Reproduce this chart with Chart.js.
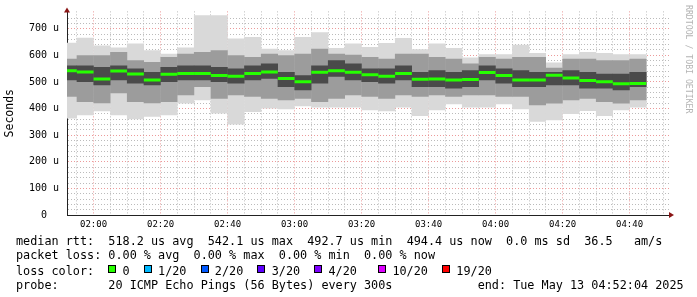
<!DOCTYPE html>
<html>
<head>
<meta charset="utf-8">
<script src="https://cdn.jsdelivr.net/npm/chart.js@4/dist/chart.umd.min.js"></script>
<style>
  html, body { margin: 0; padding: 0; background: #fff; }
  #wrap { position: relative; width: 697px; height: 297px; overflow: hidden; }
  #chart { position: absolute; left: 0; top: 0; }
  #legend {
    position: absolute; left: 16px; top: 233.5px;
    font: 11.8px "DejaVu Sans Mono", monospace; line-height: 14.5px;
    white-space: pre; color: #000;
  }
  .sw { display: inline-block; width: 1ch; position: relative; height: 1em; vertical-align: baseline; }
  .sw i { position: absolute; left: 0; top: 2px; width: 8px; height: 8px; border: 1px solid #000; box-sizing: border-box; }
  #brand {
    position: absolute; left: 683.5px; top: 5px;
    font: 8.2px "DejaVu Sans Mono", monospace; line-height: 10px;
    writing-mode: vertical-rl; color: #b4b4b4; white-space: pre;
  }
</style>
</head>
<body>
<div id="wrap">
  <canvas id="chart" width="697" height="297"></canvas>
  <div id="legend"></div>
  <div id="brand">RRDTOOL / TOBI OETIKER</div>
</div>
<script>
// 5 minute bins (start time of each bin)
const binStart = ["01:50","01:55","02:00","02:05","02:10","02:15","02:20","02:25","02:30","02:35",
  "02:40","02:45","02:50","02:55","03:00","03:05","03:10","03:15","03:20","03:25",
  "03:30","03:35","03:40","03:45","03:50","03:55","04:00","04:05","04:10","04:15",
  "04:20","04:25","04:30","04:35","04:40"];

// smoke extents and median, in microseconds
const maxV = [647,666,637,629,644,619,606,629,750,750,663,669,625,619,669,687,627,644,631,646,
  665,623,644,627,592,604,604,640,609,573,604,612,609,604,604];
const hiMid = [587,600,600,612,581,575,594,606,612,619,600,594,606,600,606,625,606,602,594,587,
  606,606,594,587,569,594,587,594,594,553,587,587,581,581,587];
const hiCore = [562,562,556,562,550,537,556,562,562,556,550,562,569,537,525,562,581,569,550,550,
  562,537,544,537,544,562,550,544,537,537,544,537,531,531,537];
const median = [542,537,511,541,530,507,529,532,532,524,521,532,537,513,501,536,542,536,527,521,
  532,510,511,507,509,535,524,507,507,525,515,505,501,493,494];
const loCore = [506,500,487,506,494,487,500,506,506,500,494,506,512,481,469,494,519,506,500,494,
  506,481,481,475,481,506,494,481,481,487,487,475,475,469,481];
const loMid = [444,425,420,457,425,420,425,450,481,437,450,444,437,431,437,425,437,450,444,437,
  450,444,450,444,450,450,444,444,412,419,431,437,425,419,431];
const minV = [363,375,390,375,360,369,375,419,431,381,340,387,400,397,409,404,404,404,394,390,
  404,372,394,416,404,404,416,397,350,356,379,391,372,394,404];

const xTickLabels = ["02:00","02:20","02:40","03:00","03:20","03:40","04:00","04:20","04:40"];
const yTickLabels = ["0  ","100 u","200 u","300 u","400 u","500 u","600 u","700 u"];

const lossColors = ["#26ff00","#00b8ff","#0059ff","#5e00ff","#7e00ff","#dd00ff","#ff0000"];
const lossLabels = ["0","1/20","2/20","3/20","4/20","10/20","19/20"];

const toMin = s => { const p = s.split(":").map(Number); return p[0] * 60 + p[1]; };
const centers = binStart.map(s => toMin(s) + 2.5);
const band = (lo, hi) => centers.map((x, i) => ({ x: x, y: [lo[i], hi[i]] }));

const xStart = toMin("01:52") + 4 / 60;
const xEnd = toMin("04:52") + 4 / 60;
const xLabelAt = {};
xTickLabels.forEach(l => { xLabelAt[toMin(l)] = l; });

const mono = "DejaVu Sans Mono";
Chart.defaults.font.family = mono;

const barBase = { type: "bar", grouped: false, barPercentage: 1.02, categoryPercentage: 1, borderWidth: 0, clip: 0 };

const arrows = {
  id: "arrows",
  afterDraw(c) {
    const ctx = c.ctx, a = c.chartArea;
    ctx.save();
    ctx.fillStyle = "#8a1515";
    ctx.beginPath();
    ctx.moveTo(a.left - 3, a.top + 1);
    ctx.lineTo(a.left + 3, a.top + 1);
    ctx.lineTo(a.left, a.top - 4);
    ctx.fill();
    ctx.beginPath();
    ctx.moveTo(a.right - 1, a.bottom - 3);
    ctx.lineTo(a.right - 1, a.bottom + 3);
    ctx.lineTo(a.right + 4, a.bottom);
    ctx.fill();
    ctx.restore();
  }
};

new Chart(document.getElementById("chart"), {
  data: {
    datasets: [
      { type: "line", data: centers.map((x, i) => ({ x: x, y: median[i] })), showLine: false,
        pointStyle: "line", pointRadius: 8.375, pointBorderWidth: 3, pointBorderColor: "#26ff00",
        clip: 0, order: 0 },
      Object.assign({ data: band(loCore, hiCore), backgroundColor: "#4a4a4a", order: 1 }, barBase),
      Object.assign({ data: band(loMid, hiMid), backgroundColor: "#9c9c9c", order: 2 }, barBase),
      Object.assign({ data: band(minV, maxV), backgroundColor: "#d9d9d9", order: 3 }, barBase)
    ]
  },
  options: {
    responsive: false,
    animation: false,
    events: [],
    devicePixelRatio: 1,
    layout: { padding: { top: 11, right: 27, bottom: 62, left: 0 } },
    plugins: { legend: { display: false }, tooltip: { enabled: false } },
    scales: {
      x: {
        type: "linear", min: xStart, max: xEnd, z: 1, offset: false,
        afterFit: s => { s.height = 20; s.paddingLeft = 0; s.paddingRight = 0; },
        afterBuildTicks: s => {
          const t = [];
          for (let v = toMin("01:55"); v <= xEnd; v += 5) t.push({ value: v });
          s.ticks = t;
        },
        ticks: {
          autoSkip: false, maxRotation: 0, padding: 4, color: "#000",
          font: { family: mono, size: 9 },
          callback: v => xLabelAt[v] || ""
        },
        grid: {
          offset: false, drawTicks: false, lineWidth: 1,
          color: c => (c.tick && xLabelAt[c.tick.value]) ? "rgba(230,120,120,0.75)" : "rgba(170,170,170,0.8)"
        },
        border: { display: true, color: "#222", width: 1, dash: [1, 2] }
      },
      y: {
        type: "linear", min: 0, max: 765, z: 1,
        afterFit: s => { s.width = 67; s.paddingTop = 0; s.paddingBottom = 0; },
        afterBuildTicks: s => {
          const t = [];
          for (let v = 0; v <= 740; v += 20) t.push({ value: v });
          s.ticks = t;
        },
        ticks: {
          autoSkip: false, padding: 8, color: "#000",
          font: { family: mono, size: 10 },
          callback: v => (v % 100 === 0) ? yTickLabels[v / 100] : ""
        },
        grid: {
          drawTicks: false, lineWidth: 1,
          color: c => (c.tick && c.tick.value % 100 === 0) ? "rgba(230,120,120,0.75)" : "rgba(170,170,170,0.8)"
        },
        border: { display: true, color: "#222", width: 1, dash: [1, 2] },
        title: { display: true, text: "Seconds", color: "#000", font: { family: mono, size: 11.5 }, padding: { top: 3, bottom: 0 } }
      }
    }
  },
  plugins: [arrows]
});

// text legend below the graph
const sw = c => '<span class="sw"><i style="background:' + c + '"></i></span>';
let lossLine = "loss color:  ";
lossLabels.forEach((l, i) => {
  lossLine += sw(lossColors[i]) + " " + l + (i === 4 ? "   " : "  ");
});
document.getElementById("legend").innerHTML = [
  "median rtt:  518.2 us avg  542.1 us max  492.7 us min  494.4 us now  0.0 ms sd  36.5   am/s",
  "packet loss: 0.00 % avg  0.00 % max  0.00 % min  0.00 % now",
  lossLine,
  "probe:       20 ICMP Echo Pings (56 Bytes) every 300s            end: Tue May 13 04:52:04 2025"
].join("\n");
</script>
</body>
</html>
